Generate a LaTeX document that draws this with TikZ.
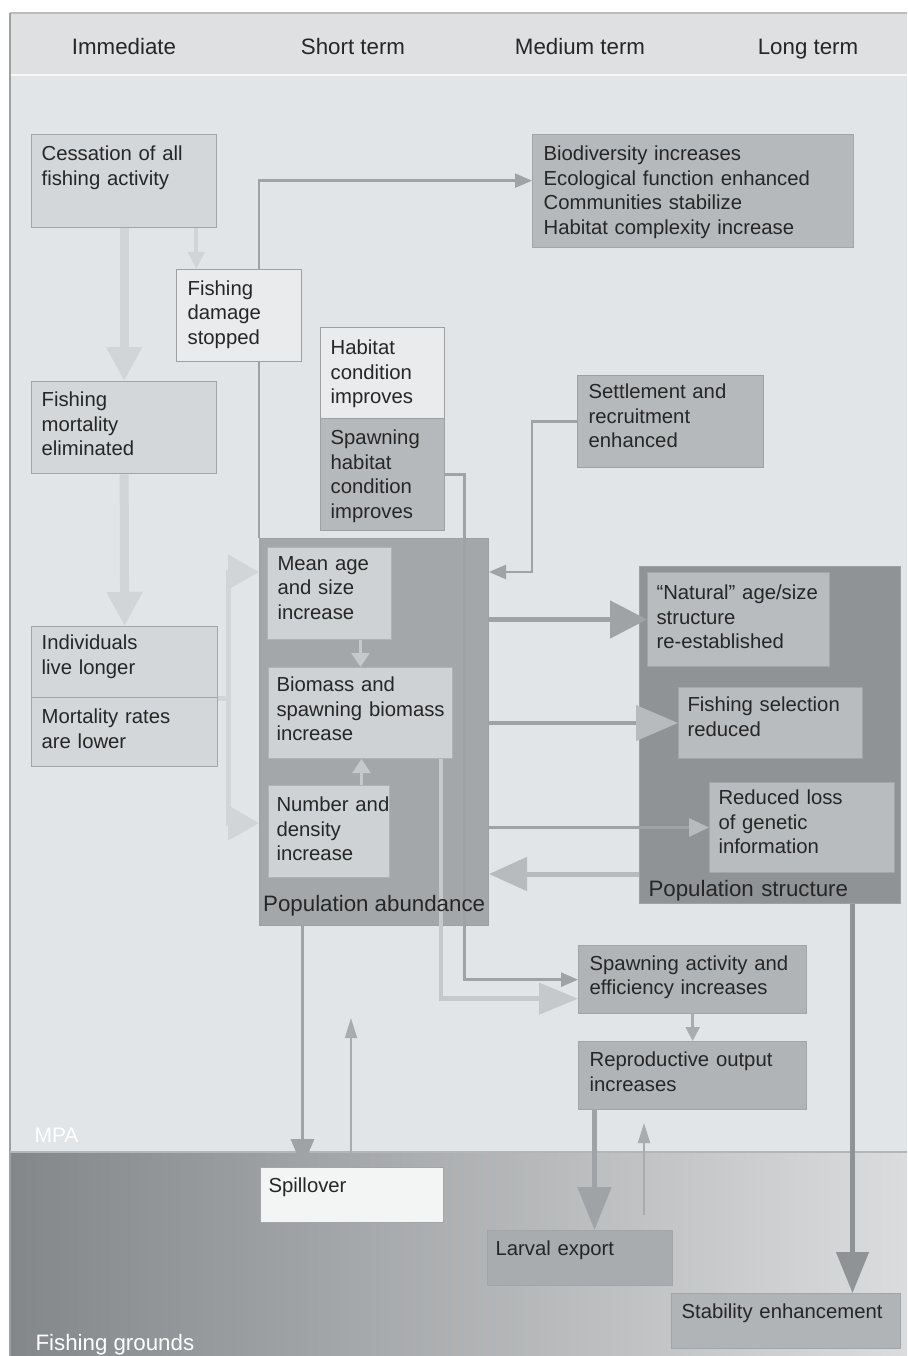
\documentclass[tikz,border=0pt]{standalone}
\usepackage{fontspec}
\setmainfont{Liberation Sans}
\usetikzlibrary{arrows.meta,calc}
\hyphenpenalty=10000
\exhyphenpenalty=10000
\newcommand\bxf{\fontsize{20.3}{24.5}\selectfont}
\newcommand\lbf{\fontsize{22.3}{26}\selectfont}
\definecolor{bgmain}{HTML}{E2E5E7}
\definecolor{bghead}{HTML}{DEE0E2}
\definecolor{fgL}{HTML}{84878A}
\definecolor{fgR}{HTML}{DADCDD}
\definecolor{cLight}{HTML}{D4D7D9}
\definecolor{cPale}{HTML}{E9EBEC}
\definecolor{cMid}{HTML}{B6B9BC}
\definecolor{cBord}{HTML}{A3A6A9}
\definecolor{cAb}{HTML}{A4A7AA}
\definecolor{cAbIn}{HTML}{CFD2D4}
\definecolor{cSt}{HTML}{909396}
\definecolor{cStIn}{HTML}{B9BCBE}
\definecolor{cAct}{HTML}{B1B4B7}
\definecolor{cLarv}{HTML}{A9ACAF}
\definecolor{cSpill}{HTML}{F3F4F4}
\definecolor{lnc}{HTML}{A0A3A6}
\definecolor{fnt}{HTML}{D2D5D8}
\definecolor{fnt2}{HTML}{C6C9CC}
\definecolor{tipl}{HTML}{B8BBBE}
\definecolor{framec}{HTML}{9EA1A4}
\begin{document}
\begin{tikzpicture}[x=1pt,y=-1pt,
  box/.style={draw=cBord, line width=1.3pt, anchor=north west, inner xsep=10pt,
    inner ysep=0pt, align=left, font=\bxf, text=black!85},
  inbox/.style={box, draw=#1, line width=1pt},
  cont/.style={draw=framec, line width=1pt, anchor=north west, inner ysep=0pt,
    align=left, font=\lbf, text=black!85},
  hdr/.style={anchor=base, font=\lbf, text=black!85},
  zone/.style={anchor=base west, font=\lbf, text=white},
  ln/.style={draw=lnc, line width=2.5pt},
  fl/.style={draw=fnt, line width=#1},
  tipS/.style={-{Triangle[width=14pt,length=17pt]}},
]
\useasboundingbox (0,0) rectangle (907,1356);
% backgrounds
\fill[white] (0,0) rectangle (907,1356);
\fill[bghead] (10,13) rectangle (907,75);
\fill[bgmain] (10,75) rectangle (907,1152);
\shade[left color=fgL, right color=fgR] (10,1152) rectangle (907,1356);
\draw[line width=2pt, color=white!70!bgmain] (10,75) -- (907,75);
\draw[line width=1.5pt, color=framec!70!white] (10,13) -- (907,13);
\draw[line width=1.5pt, color=framec] (10,13) -- (10,1356);
\draw[line width=2pt, color=lnc!80!white] (10,1152) -- (907,1152);

% headers
\node[hdr] (h1) at (124,55) {Immediate};
\node[hdr] (h2) at (353,55) {Short term};
\node[hdr] (h3) at (580,55) {Medium term};
\node[hdr] (h4) at (808,55) {Long term};
\node[zone, font=\fontsize{21}{24}\selectfont] (mpa) at (31,1142) {MPA};
\node[zone] (fg) at (32,1350) {Fishing grounds};

% left column
\node[box, fill=cLight, text width=165pt, text height=26pt, text depth=67pt] (cess) at (31,134) {Cessation of all\\fishing activity};
\node[box, fill=cLight, text width=165pt, text height=25pt, text depth=67pt] (mort) at (31,381) {Fishing\\mortality\\eliminated};
\node[box, fill=cLight, text width=166pt, text height=23pt, text depth=48pt] (indiv) at (31,626) {Individuals\\live longer};
\node[box, fill=cLight, text width=166pt, text height=26pt, text depth=43pt] (mortr) at (31,697) {Mortality rates\\are lower};

% short term upper
\node[box, fill=cPale, draw=framec, inner xsep=11pt, text width=103pt, text height=25.5pt, text depth=66.5pt] (dmg) at (176,269) {Fishing\\damage\\stopped};
\node[box, fill=cPale, draw=framec, text width=104pt, text height=27pt, text depth=64pt] (hab) at (320,327) {Habitat\\condition\\improves};
\node[box, fill=cMid, draw=framec, text width=104pt, text height=26pt, text depth=86pt] (spawnhab) at (320,418) {Spawning\\habitat\\condition\\improves};

% medium / long upper
\node[box, fill=cMid, inner xsep=11pt, text width=299pt, text height=26pt, text depth=87pt] (bio) at (532,134) {Biodiversity~increases\\Ecological~function~enhanced\\Communities~stabilize\\Habitat~complexity~increase};
\node[box, fill=cMid, draw=framec, inner xsep=11pt, text width=164pt, text height=23pt, text depth=69pt] (settle) at (577,375) {Settlement~and\\recruitment\\enhanced};

% containers
\node[cont, fill=cAb, minimum width=229pt, minimum height=387pt] (popab) at (259,538) {};
\node[cont, fill=cSt, inner xsep=9pt, text width=243pt, text height=330pt, text depth=7pt] (popst) at (639,566) {Population~structure};

% inner abundance
\node[inbox=cBord!70!cAbIn, fill=cAbIn, text width=104pt, text height=22.5pt, text depth=69.5pt] (meanage) at (267,547) {Mean~age\\and~size\\increase};
\node[inbox=cBord!70!cAbIn, fill=cAbIn, inner xsep=8pt, text width=168pt, text height=24pt, text depth=67pt] (biomass) at (268,667) {Biomass~and\\spawning~biomass\\increase};
\node[inbox=cBord!70!cAbIn, fill=cAbIn, inner xsep=8pt, text width=105pt, text height=26pt, text depth=66pt] (number) at (268,785) {Number~and\\density\\increase};

% inner structure
\node[inbox=cBord, fill=cStIn, inner xsep=9pt, text width=164pt, text height=27pt, text depth=67pt] (natural) at (647,572) {“Natural”~age/size\\structure\\re-established};
\node[inbox=cBord, fill=cStIn, inner xsep=9pt, text width=166pt, text height=24pt, text depth=47pt] (fsel) at (678,687) {Fishing~selection\\reduced};
\node[inbox=cBord, fill=cStIn, inner xsep=9pt, text width=167pt, text height=22pt, text depth=68pt] (rloss) at (709,782) {Reduced~loss\\of~genetic\\information};

% lower
\node[box, fill=cAct, inner xsep=11pt, text width=206pt, text height=24.5pt, text depth=43.5pt] (spact) at (578,945) {Spawning~activity~and\\efficiency~increases};
\node[box, fill=cAct, inner xsep=11pt, text width=206pt, text height=25pt, text depth=43pt] (repro) at (578,1041) {Reproductive~output\\increases};
\node[box, fill=cSpill, inner xsep=8pt, text width=167pt, text height=25pt, text depth=30pt] (spill) at (260,1167) {Spillover};
\node[box, fill=cLarv, inner xsep=8pt, text width=169pt, text height=24.5pt, text depth=30.5pt] (larval) at (487,1230) {Larval~export};
\node[box, fill=cAct, text width=209pt, text height=25pt, text depth=30pt] (stab) at (671,1293) {Stability~enhancement};

\coordinate (spillup) at (351,1018);
\coordinate (larvup) at (644,1123);

% connectors: immediate column (faint)
\draw[fl=9pt, -{Triangle[width=34pt,length=34pt]}] (cess.south) -- (mort.north);
\draw[fl=9pt, -{Triangle[width=34pt,length=34pt]}] (mort.south) -- (indiv.north);
\draw[fl=4pt, -{Triangle[width=16pt,length=17pt]}] ([xshift=-21pt]cess.south east) -- ([xshift=-21pt]cess.south east |- dmg.north);
\draw[fl=5pt, -{Triangle[width=34pt,length=31pt]}] (indiv.south east) -- ++(10pt,0) |- ([yshift=-34pt]popab.north west);
\draw[fl=5pt, -{Triangle[width=34pt,length=31pt]}] (indiv.south east) -- ++(10pt,0) |- ([yshift=103pt]popab.south west);

% habitat connectors
\draw[ln, tipS] ([xshift=20pt]dmg.north) |- ([yshift=10.5pt]bio.west);
\draw[ln] ([xshift=20pt]dmg.south) -- ([xshift=20pt]dmg.south |- popab.north);
\draw[ln, tipS] (settle.west) -- ++(-45pt,0) |- ([yshift=-34pt]popab.north east);

% inner abundance arrows
\draw[draw=fnt2, line width=2.5pt, -{Triangle[width=18pt,length=14pt]}] ([xshift=31pt]meanage.south) -- ([xshift=31pt]meanage.south |- biomass.north);
\draw[draw=fnt2, line width=2.5pt, -{Triangle[width=18pt,length=14pt]}] ([xshift=32.5pt]number.north) -- ([xshift=32.5pt]number.north |- biomass.south);

% to spawning activity
\draw[ln, tipS] (spawnhab.east) -- ++(19pt,0) |- (spact.west);
\draw[draw=fnt2, line width=4.5pt, -{Triangle[width=31pt,length=39pt]}] ([xshift=-12pt]biomass.south east) |- ([yshift=-19pt]spact.west);

% container label drawn above the lines
\node[anchor=base west, font=\lbf, text=black!85, inner sep=0pt] (popablbl) at ([xshift=4pt,yshift=15pt]popab.south west) {Population~abundance};

% abundance <-> structure
\draw[ln, line width=5pt, -{Triangle[width=37pt,length=37pt]}] (natural.west -| popab.east) -- (natural.west);
\draw[ln, line width=4pt, -{Triangle[width=35pt,length=42pt,color=tipl]}] (fsel.west -| popab.east) -- (fsel.west);
\draw[ln, line width=3pt, -{Triangle[width=18pt,length=20pt,color=tipl]}] (rloss.west -| popab.east) -- (rloss.west);
\draw[ln, line width=5pt, draw=tipl, -{Triangle[width=33pt,length=38pt]}] ([yshift=30pt]popst.south west) -- ([yshift=30pt]popst.south west -| popab.east);

% lower connectors
\draw[ln, line width=3.5pt, -{Triangle[width=23pt,length=28pt]}] ([xshift=43.5pt]popab.south west) -- ([xshift=43.5pt]popab.south west |- spill.north);
\draw[ln, line width=2pt, draw=cLarv, -{Triangle[width=12pt,length=20pt]}] ([xshift=91pt,yshift=14pt]spill.north west) -- (spillup);
\draw[ln, draw=cLarv, -{Triangle[width=14pt,length=14pt]}] (spact.south) -- (repro.north);
\draw[ln, line width=5pt, -{Triangle[width=33pt,length=43pt]}] ([xshift=16.5pt]repro.south west) -- ([xshift=16.5pt]repro.south west |- larval.north);
\draw[ln, line width=2pt, draw=cLarv, -{Triangle[width=12pt,length=20pt]}] ([xshift=157pt,yshift=15pt]larval.north west) -- (larvup);
\draw[ln, line width=4.5pt, draw=lnc!90!black, -{Triangle[width=32pt,length=41pt]}] ([xshift=213.5pt]popst.south west) -- ([xshift=213.5pt]popst.south west |- stab.north);
\end{tikzpicture}
\end{document}
